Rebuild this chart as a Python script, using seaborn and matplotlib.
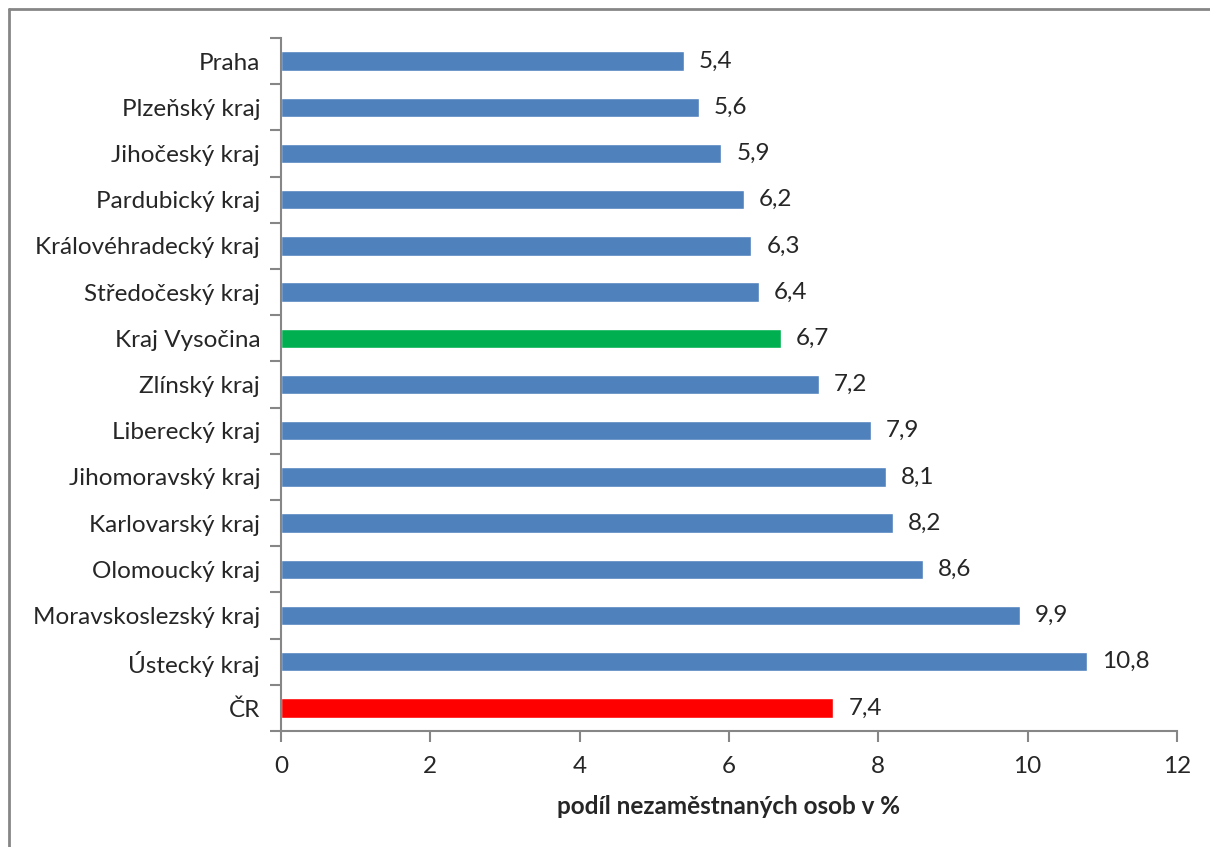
import numpy as np
import pandas as pd
import matplotlib
matplotlib.use("Agg")
import matplotlib.pyplot as plt
import seaborn as sns
from matplotlib.lines import Line2D

regions = ["Praha", "Plzeňský kraj", "Jihočeský kraj", "Pardubický kraj",
           "Královéhradecký kraj", "Středočeský kraj", "Kraj Vysočina",
           "Zlínský kraj", "Liberecký kraj", "Jihomoravský kraj",
           "Karlovarský kraj", "Olomoucký kraj", "Moravskoslezský kraj",
           "Ústecký kraj", "ČR"]
shares = [5.4, 5.6, 5.9, 6.2, 6.3, 6.4, 6.7, 7.2, 7.9, 8.1, 8.2, 8.6, 9.9, 10.8, 7.4]
xticks = [0, 2, 4, 6, 8, 10, 12]

sns.set_style("white")
plt.rcParams['font.family'] = ['Lato', 'DejaVu Sans']

df = pd.DataFrame({"kraj": regions, "podil": shares})
palette = {r: "#4F81BD" for r in regions}
palette["Kraj Vysočina"] = "#00B050"
palette["ČR"] = "#FF0000"

fig = plt.figure(figsize=(12.1, 8.47), dpi=100)
ax = fig.add_axes([0.2322, 0.1370, 0.7405, 0.8181])
sns.barplot(data=df, x="podil", y="kraj", hue="kraj", palette=palette,
            width=0.42, legend=False, ax=ax, saturation=1)

ax.set_xlim(0, 12)
ax.set_ylim(len(regions) - 0.5, -0.5)
ax.set_xticks(xticks)
ax.set_xticklabels([str(t) for t in xticks], fontsize=17.5)
ax.set_yticks(range(len(regions)))
ax.set_yticklabels(regions, fontsize=17.5)
ax.tick_params(axis="y", length=0, pad=15)
ax.tick_params(axis="x", bottom=True, length=8, width=1.5, color="#868686",
               direction="out", pad=10)
# category boundary ticks on the y axis
ax.set_yticks(np.arange(-0.5, len(regions), 1), minor=True)
ax.tick_params(axis="y", which="minor", left=True, length=8, width=1.5,
               color="#868686", direction="out")

for side in ["top", "right"]:
    ax.spines[side].set_visible(False)
for side in ["left", "bottom"]:
    ax.spines[side].set_color("#868686")
    ax.spines[side].set_linewidth(1.5)

for i, v in enumerate(shares):
    ax.text(v + 0.2, i, f"{v:.1f}".replace(".", ","), va="center", ha="left",
            fontsize=17.5)

ax.set_xlabel("podíl nezaměstnaných osob v %", fontsize=17.5, fontweight="bold",
              labelpad=13)
ax.set_ylabel("")

fig.add_artist(Line2D([9 / 1210, 9 / 1210], [0, 1 - 9 / 847], color="#868686", lw=2))
fig.add_artist(Line2D([9 / 1210, 1], [1 - 9 / 847, 1 - 9 / 847], color="#868686", lw=2))

fig.savefig("out.png", dpi=100)
